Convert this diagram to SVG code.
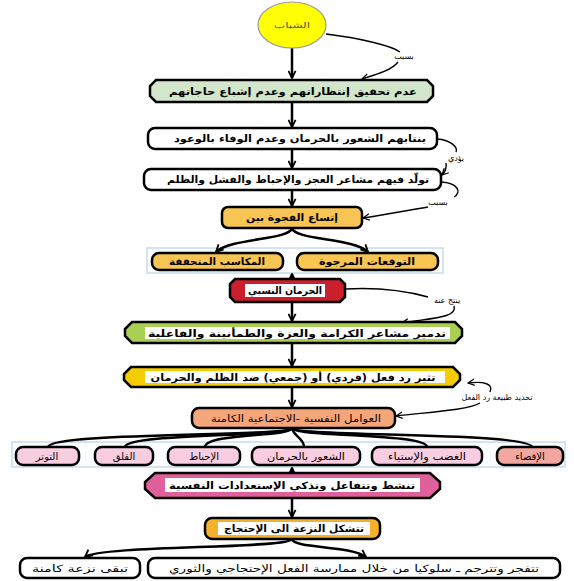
<svg xmlns="http://www.w3.org/2000/svg" width="574" height="581" viewBox="0 0 574 581">
<style>
.n{stroke:#000;stroke-width:2.5}
.t{font-family:"DejaVu Sans",sans-serif;font-size:10px;font-weight:bold;text-anchor:middle;direction:rtl;fill:#000}
.r{font-weight:normal}
.l{font-family:"DejaVu Sans",sans-serif;font-size:8px;text-anchor:middle;direction:rtl;fill:#000}
.c{fill:none;stroke:#000;stroke-width:2.5}
.s{fill:none;stroke:#000;stroke-width:1.4}
.hl{fill:#fff}
.grp{fill:#fbfdff;stroke:#b9d3e6;stroke-width:1.2}
</style>
<defs>
<marker id="a" viewBox="0 0 10 10" refX="9" refY="5" markerWidth="9" markerHeight="9" orient="auto" markerUnits="userSpaceOnUse">
<path d="M1,1 L9,5 L1,9" fill="none" stroke="#000" stroke-width="2"/>
</marker>
<marker id="b" viewBox="0 0 10 10" refX="9" refY="5" markerWidth="8" markerHeight="8" orient="auto" markerUnits="userSpaceOnUse">
<path d="M1,1 L9,5 L1,9" fill="none" stroke="#000" stroke-width="1.6"/>
</marker>
</defs>
<rect width="574" height="581" fill="#fff"/>

<rect class="grp" x="147" y="248" width="296" height="25"/>
<rect class="grp" x="12" y="442" width="553" height="25"/>

<g id="connectors">
<path class="c" d="M292,48 V78" marker-end="url(#a)"/>
<path class="s" d="M326,34 C360,38 392,46 400,52"/>
<path class="s" d="M398,62 C392,70 378,74 362,79" marker-end="url(#b)"/>
<path class="c" d="M292,102 V127" marker-end="url(#a)"/>
<path class="c" d="M292,149 V168" marker-end="url(#a)"/>
<path class="s" d="M437,139 C452,140 458,148 456,152"/>
<path class="s" d="M446,163 C447,169 445,172 442,175" marker-end="url(#b)"/>
<path class="s" d="M441,182 C458,183 462,192 454,197"/>
<path class="s" d="M428,207 C410,210 388,214 363,218" marker-end="url(#b)"/>
<path class="c" d="M292,190 V206" marker-end="url(#a)"/>
<path class="c" d="M292,228 C290,240 230,238 216,252" marker-end="url(#a)"/>
<path class="c" d="M292,228 C294,240 354,238 368,252" marker-end="url(#a)"/>
<path class="c" d="M292,279 V274" marker-end="url(#a)"/>
<path class="s" d="M345,289 C380,287 410,292 428,297"/>
<path class="s" d="M454,306 C458,318 430,318 402,323" marker-end="url(#b)"/>
<path class="c" d="M292,302 V321" marker-end="url(#a)"/>
<path class="c" d="M292,343 V366" marker-end="url(#a)"/>
<path class="s" d="M490,392 C494,384 484,381 468,383" marker-end="url(#b)"/>
<path class="s" d="M480,403 C468,410 430,412 396,416" marker-end="url(#b)"/>
<path class="c" d="M292,387 V407" marker-end="url(#a)"/>
<path class="c" d="M292,428 C292,437 50,432 48,447"/>
<path class="c" d="M292,428 C292,437 127,433 125,447"/>
<path class="c" d="M292,428 C292,437 206,433 205,447"/>
<path class="c" d="M292,428 C294,437 304,438 304,447"/>
<path class="c" d="M292,428 C292,437 426,433 427,447"/>
<path class="c" d="M292,428 C292,437 530,432 532,447"/>
<path class="c" d="M292,473 V468" marker-end="url(#a)"/>
<path class="c" d="M292,498 V517" marker-end="url(#a)"/>
<path class="c" d="M292,539 C290,549 100,545 85,557" marker-end="url(#a)"/>
<path class="c" d="M292,539 C294,549 350,545 366,557" marker-end="url(#a)"/>
</g>

<g id="youth">
<ellipse cx="292" cy="25" rx="34" ry="23" fill="#ffff00" stroke="#9a9a9a" stroke-width="1.2"/>
<text class="t r" x="292" y="28" style="fill:#555;font-size:8px" textLength="36" lengthAdjust="spacingAndGlyphs">الشباب</text>
</g>
<g id="lbl1"><text class="l" x="404" y="59">بسبب</text></g>

<g id="n1">
<polygon class="n" points="156,80 427,80 433,86 433,96 427,102 156,102 150,96 150,86" fill="#d3e6cb"/>
<text class="t" x="293" y="95" textLength="248" lengthAdjust="spacingAndGlyphs">عدم تحقيق إنتظاراتهم وعدم إشباع حاجاتهم</text>
</g>
<g id="n2">
<rect class="n" x="148" y="128" width="289" height="21" rx="7" fill="#fff"/>
<text class="t" x="300" y="142" textLength="252" lengthAdjust="spacingAndGlyphs">ينتابهم الشعور بالحرمان وعدم الوفاء بالوعود</text>
</g>
<g id="lbl2"><text class="l" x="456" y="161">يؤدي</text></g>
<g id="n3">
<rect class="n" x="144" y="169" width="297" height="21" rx="7" fill="#fff"/>
<text class="t" x="298" y="183" textLength="262" lengthAdjust="spacingAndGlyphs">تولّد فيهم  مشاعر العجز والإحباط والفشل والظلم</text>
</g>
<g id="lbl3"><text class="l" x="438" y="205">بسبب</text></g>
<g id="n4">
<rect class="n" x="222" y="207" width="140" height="21" rx="6" fill="#f8c454"/>
<text class="t" x="292" y="221" textLength="92" lengthAdjust="spacingAndGlyphs">إتساع الفجوة بين</text>
</g>
<g id="n5">
<rect class="n" x="152" y="253" width="131" height="17" rx="7" fill="#f8c454"/>
<text class="t" x="217" y="265" textLength="96" lengthAdjust="spacingAndGlyphs">المكاسب المتحققة</text>
</g>
<g id="n6">
<rect class="n" x="297" y="253" width="141" height="17" rx="7" fill="#f8c454"/>
<text class="t" x="367" y="265" textLength="96" lengthAdjust="spacingAndGlyphs">التوقعات المرجوة</text>
</g>
<g id="n7">
<polygon class="n" points="235,279 340,279 345,284 345,297 340,302 235,302 230,297 230,284" fill="#cc1f2e"/>
<rect class="hl" x="245" y="284" width="80" height="13"/>
<text class="t" x="285" y="294" textLength="74" lengthAdjust="spacingAndGlyphs">الحرمان  النسبي</text>
</g>
<g id="lbl4"><text class="l" x="447" y="303">ينتج عنه</text></g>
<g id="n8">
<polygon class="n" points="132,322 455,322 462,329 462,336 455,343 132,343 125,336 125,329" fill="#a9cf54"/>
<rect class="hl" x="145" y="327" width="305" height="12"/>
<text class="t" x="297" y="337" textLength="298" lengthAdjust="spacingAndGlyphs">تدمير  مشاعر الكرامة والعزة والطمأنينة والفاعلية</text>
</g>
<g id="n9">
<polygon class="n" points="131,367 453,367 460,374 460,380 453,387 131,387 124,380 124,374" fill="#f5cc00"/>
<rect class="hl" x="145" y="371" width="300" height="12"/>
<text class="t" x="293" y="381" textLength="285" lengthAdjust="spacingAndGlyphs">تثير رد فعل (فردي) أو (جمعي) ضد الظلم والحرمان</text>
</g>
<g id="lbl5"><text class="l" x="497" y="400">تحديد طبيعة رد الفعل</text></g>
<g id="n10">
<rect class="n" x="192" y="408" width="203" height="20" rx="7" fill="#f5a57a"/>
<text class="t r" x="296" y="422" textLength="170" lengthAdjust="spacingAndGlyphs">العوامل النفسية -الاجتماعية الكامنة</text>
</g>
<g id="n11">
<rect class="n" x="16" y="447" width="63" height="18" rx="7" fill="#f9cde0"/>
<text class="t r" x="47" y="460">التوتر</text>
</g>
<g id="n12">
<rect class="n" x="95" y="447" width="58" height="18" rx="7" fill="#f9cde0"/>
<text class="t r" x="124" y="460">القلق</text>
</g>
<g id="n13">
<rect class="n" x="168" y="447" width="72" height="18" rx="7" fill="#f9cde0"/>
<text class="t r" x="204" y="460">الإحباط</text>
</g>
<g id="n14">
<rect class="n" x="252" y="447" width="108" height="18" rx="7" fill="#f9cde0"/>
<text class="t r" x="306" y="460" textLength="78" lengthAdjust="spacingAndGlyphs">الشعور بالحرمان</text>
</g>
<g id="n15">
<rect class="n" x="372" y="447" width="110" height="18" rx="7" fill="#f9cde0"/>
<text class="t r" x="427" y="460" textLength="78" lengthAdjust="spacingAndGlyphs">الغضب والإستياء</text>
</g>
<g id="n16">
<rect class="n" x="497" y="447" width="66" height="18" rx="7" fill="#f2a7a0"/>
<text class="t r" x="530" y="460">الإقصاء</text>
</g>
<g id="n17">
<polygon class="n" points="155,473 430,473 440,482 440,489 430,498 155,498 145,489 145,482" fill="#e0609c"/>
<rect class="hl" x="165" y="478" width="255" height="14"/>
<text class="t" x="292" y="489" textLength="246" lengthAdjust="spacingAndGlyphs">تنشط وتتفاعل وتذكي الإستعدادات النفسية</text>
</g>
<g id="n18">
<rect class="n" x="205" y="518" width="175" height="21" rx="7" fill="#f5b02e"/>
<rect class="hl" x="218" y="522" width="152" height="13"/>
<text class="t" x="294" y="532" textLength="140" lengthAdjust="spacingAndGlyphs">تتشكل النزعة الى الإحتجاج</text>
</g>
<g id="n19">
<rect class="n" x="20" y="558" width="120" height="20" rx="7" fill="#fff"/>
<text class="t r" x="80" y="572" textLength="96" lengthAdjust="spacingAndGlyphs">تبقى نزعة كامنة</text>
</g>
<g id="n20">
<rect class="n" x="148" y="558" width="412" height="20" rx="7" fill="#fff"/>
<text class="t r" x="354" y="572" textLength="370" lengthAdjust="spacingAndGlyphs">تتفجر وتترجم ـ سلوكيا من خلال ممارسة الفعل الإحتجاجي والثوري</text>
</g>
</svg>
